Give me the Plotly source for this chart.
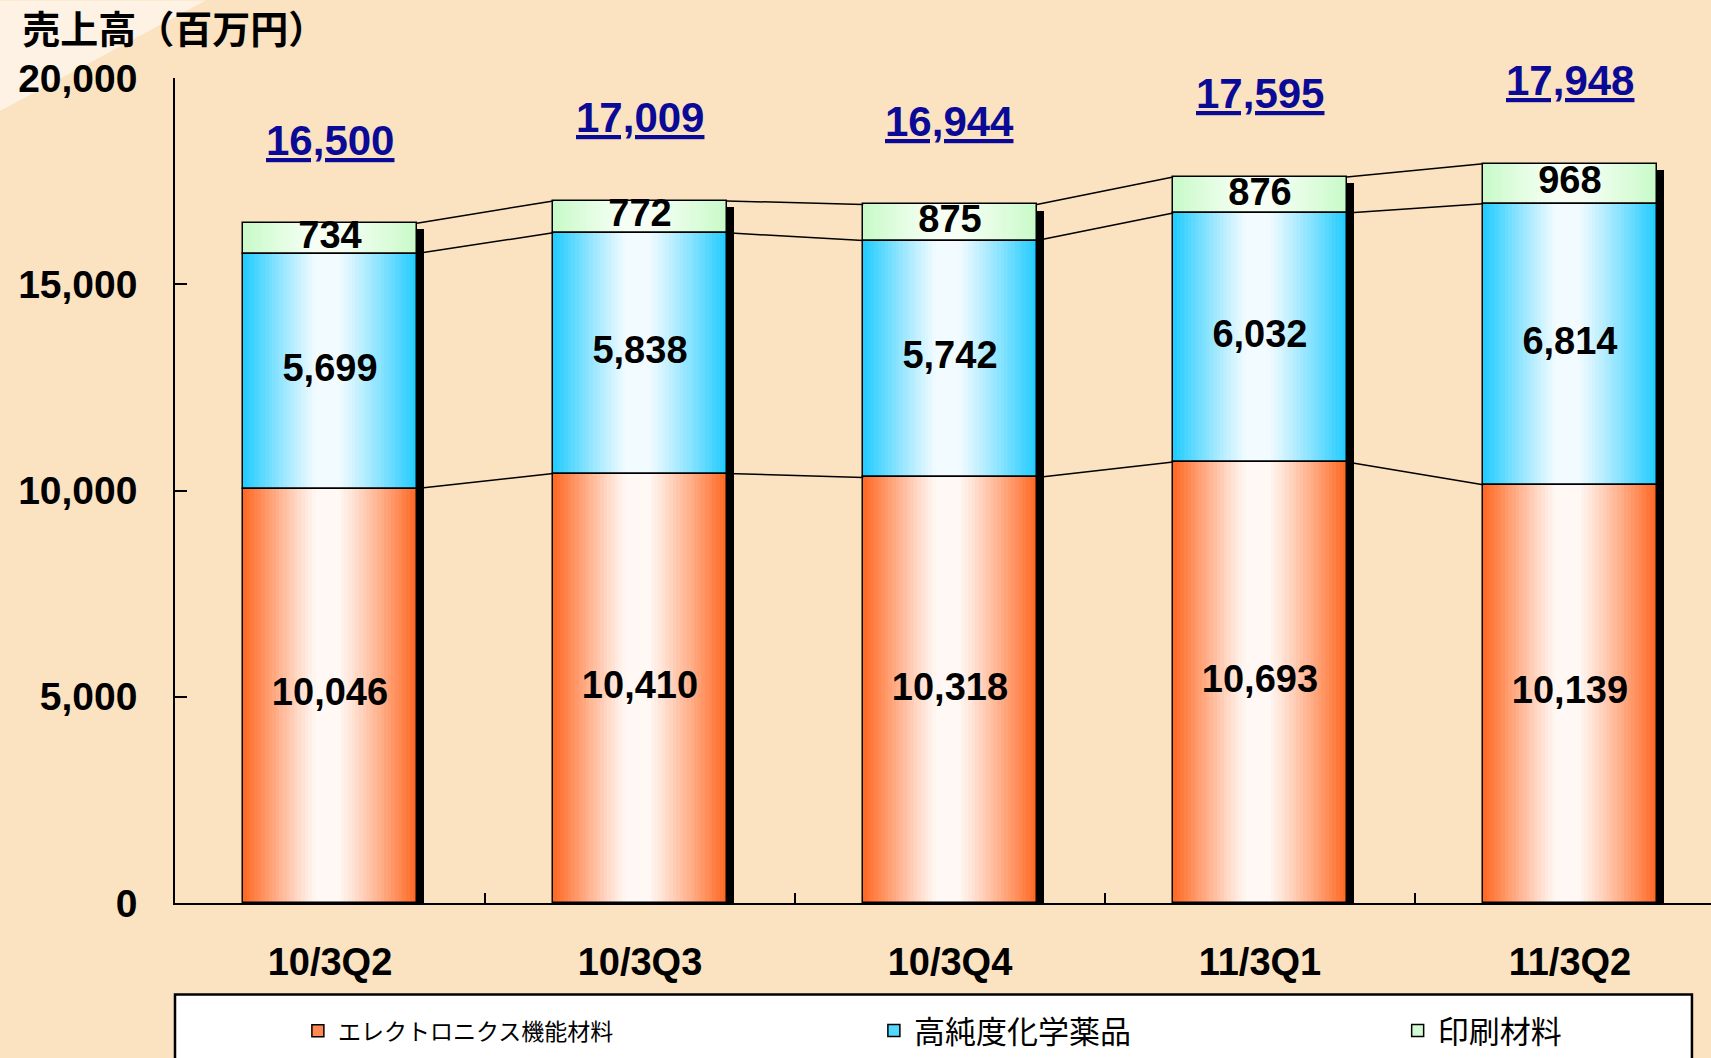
import plotly.graph_objects as go

categories = ['10/3Q2', '10/3Q3', '10/3Q4', '11/3Q1', '11/3Q2']
electronics = [10046, 10410, 10318, 10693, 10139]
chemicals = [5699, 5838, 5742, 6032, 6814]
printing = [734, 772, 875, 876, 968]
totals = [16500, 17009, 16944, 17595, 17948]
series_names = ['エレクトロニクス機能材料', '高純度化学薬品', '印刷材料']
y_ticks = [0, 5000, 10000, 15000, 20000]

W = 0.56          # bar width (category units)
N = 48            # gradient strips per bar
xs = list(range(len(categories)))

edge_cols = [(255, 102, 32), (31, 203, 255), (200, 250, 200)]
mid_cols = [(255, 248, 244), (242, 251, 255), (247, 255, 245)]


def strip_color(k, edge, mid):
    t = (k + 0.5) / N
    if t < 0.42:
        s = (0.42 - t) / 0.42
    elif t < 0.55:
        s = 0.0
    else:
        s = (t - 0.55) / 0.45
    s = s ** 1.1
    c = [round(m + (e - m) * s) for e, m in zip(edge, mid)]
    return 'rgb(%d,%d,%d)' % tuple(c)


segments = [electronics, chemicals, printing]
bases = [[0] * 5,
         electronics[:],
         [a + b for a, b in zip(electronics, chemicals)]]
tops = [[b + v for b, v in zip(bs, seg)] for bs, seg in zip(bases, segments)]

fig = go.Figure()

# drop shadow on the right of each bar
fig.add_trace(go.Bar(
    x=xs, y=[t - 110 for t in tops[2]], base=[-40] * 5,
    offset=W / 2 - 0.002, width=0.024,
    marker=dict(color='black', line=dict(width=0)),
    showlegend=False, hoverinfo='skip'))

# gradient fill built from narrow strips
for si, seg in enumerate(segments):
    for k in range(N):
        fig.add_trace(go.Bar(
            x=xs, y=seg, base=bases[si],
            offset=-W / 2 + k * W / N, width=W / N + 0.002,
            marker=dict(color=strip_color(k, edge_cols[si], mid_cols[si]),
                        line=dict(width=0)),
            showlegend=False, hoverinfo='skip'))

# outlines
for si, seg in enumerate(segments):
    fig.add_trace(go.Bar(
        x=xs, y=seg, base=bases[si], offset=-W / 2, width=W,
        marker=dict(color='rgba(0,0,0,0)', line=dict(color='black', width=1.5)),
        showlegend=False, hoverinfo='skip'))

# connecting lines between bars
for tp in tops:
    lx, ly = [], []
    for i in range(len(xs) - 1):
        lx += [xs[i] + W / 2, xs[i + 1] - W / 2, None]
        ly += [tp[i], tp[i + 1], None]
    fig.add_trace(go.Scatter(x=lx, y=ly, mode='lines',
                             line=dict(color='black', width=1.5),
                             showlegend=False, hoverinfo='skip'))

# segment value labels
for si, seg in enumerate(segments):
    fig.add_trace(go.Scatter(
        x=xs, y=[b + v / 2 for b, v in zip(bases[si], seg)],
        mode='text', text=['<b>{:,}</b>'.format(v) for v in seg],
        textfont=dict(family='Liberation Sans, Arial', size=38, color='black'),
        showlegend=False, hoverinfo='skip', cliponaxis=False))

# legend entries
legend_ids = ['legend', 'legend2', 'legend3']
for si, name in enumerate(series_names):
    fig.add_trace(go.Bar(
        x=[None], y=[None], name=name,
        marker=dict(color=strip_color(4, edge_cols[si], mid_cols[si]),
                    line=dict(color='black', width=1.5)),
        legend=legend_ids[si]))

# totals
for i, t in enumerate(totals):
    fig.add_annotation(x=xs[i], y=tops[2][i], yshift=83, text='<b><u>{:,}</u></b>'.format(t),
                       showarrow=False, xanchor='center', yanchor='middle',
                       font=dict(family='Liberation Sans, Arial', size=42, color='#0a0a96'))

# soft light patch in the top-left corner of the background
fig.add_shape(type='path', xref='paper', yref='paper', layer='below',
              path='M -0.114 1.094 L 0.02 1.094 L -0.114 0.96 Z',
              fillcolor='rgba(255,255,255,0.55)', line=dict(width=0))

fig.add_shape(type='rect', xref='paper', yref='paper', x0=0, x1=0.9876, y0=-0.1108, y1=-0.22,
              fillcolor='white', line=dict(color='black', width=2.5), layer='below')

legend_common = dict(orientation='h', yanchor='middle', y=-0.155, xanchor='left',
                     bgcolor='rgba(0,0,0,0)', borderwidth=0, itemwidth=30)

fig.update_layout(
    width=1711, height=1058,
    margin=dict(l=175, r=0, t=78, b=154.5),
    paper_bgcolor='#fbe2c0', plot_bgcolor='rgba(0,0,0,0)',
    barmode='overlay', bargap=0,
    title=dict(text='<b>売上高（百万円）</b>', x=0.013, y=1 - 30 / 1058,
               xanchor='left', yanchor='middle',
               font=dict(family='Noto Sans CJK JP', size=38, color='black')),
    xaxis=dict(range=[-0.5, 4.455], tickvals=xs,
               ticktext=['<b>%s</b>' % c for c in categories],
               tickfont=dict(family='Liberation Sans, Arial', size=38, color='black'),
               ticks='', ticklabelstandoff=25,
               showline=True, linecolor='black', linewidth=1.5,
               showgrid=False, zeroline=False,
               minor=dict(tickvals=[0.5, 1.5, 2.5, 3.5], ticks='inside', ticklen=10,
                          tickcolor='black', tickwidth=1.5, showgrid=False)),
    yaxis=dict(range=[0, 20000], tickvals=y_ticks,
               ticktext=['<b>{:,}</b>'.format(v) for v in y_ticks],
               tickfont=dict(family='Liberation Sans, Arial', size=39, color='black'),
               ticks='inside', ticklen=12, tickcolor='black', tickwidth=1.5,
               ticklabelstandoff=28,
               showline=True, linecolor='black', linewidth=1.5,
               showgrid=False, zeroline=False),
    legend=dict(legend_common, x=0.08,
                font=dict(family='Noto Sans CJK JP', size=23, color='black')),
    legend2=dict(legend_common, x=0.455,
                 font=dict(family='Noto Sans CJK JP', size=31, color='black')),
    legend3=dict(legend_common, x=0.796,
                 font=dict(family='Noto Sans CJK JP', size=31, color='black')),
)

fig.write_html('out.html', config={'displayModeBar': False},
               post_script="document.body.style.margin='0';")
